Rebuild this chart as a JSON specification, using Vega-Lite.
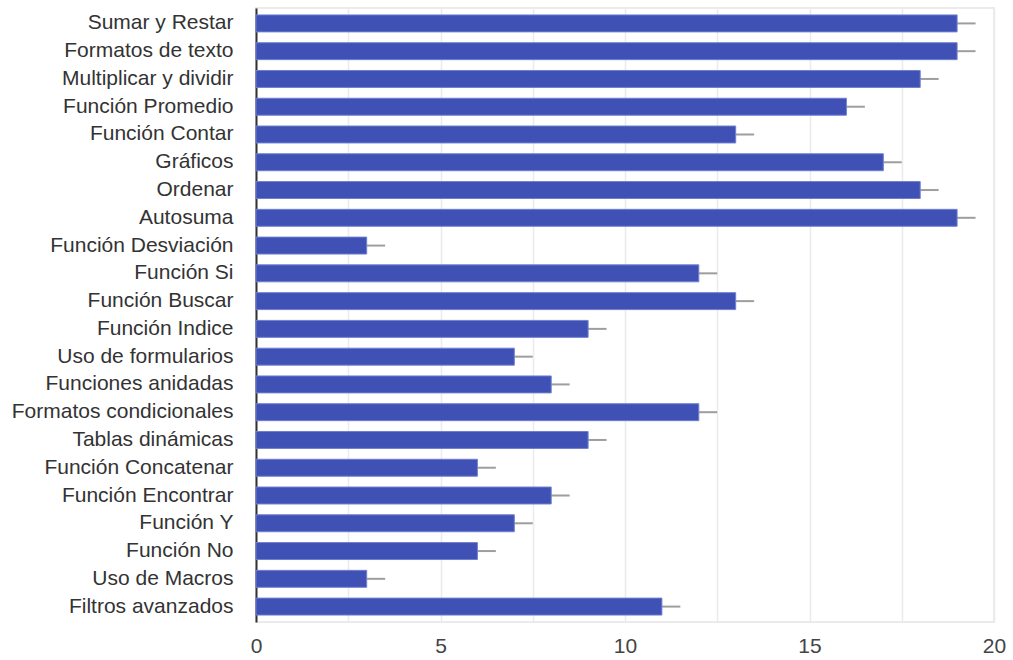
{
  "$schema": "https://vega.github.io/schema/vega-lite/v6.json",
  "width": 738,
  "height": 614,
  "autosize": {"type": "none"},
  "padding": {"left": 256, "top": 8, "right": 19, "bottom": 38},
  "background": "white",
  "config": {"view": {"stroke": "#ebebeb", "strokeWidth": 2}, "font": "Liberation Sans"},
  "data": {"values": [
    {"name": "Sumar y Restar", "value": 19, "hi": 19.5},
    {"name": "Formatos de texto", "value": 19, "hi": 19.5},
    {"name": "Multiplicar y dividir", "value": 18, "hi": 18.5},
    {"name": "Función Promedio", "value": 16, "hi": 16.5},
    {"name": "Función Contar", "value": 13, "hi": 13.5},
    {"name": "Gráficos", "value": 17, "hi": 17.5},
    {"name": "Ordenar", "value": 18, "hi": 18.5},
    {"name": "Autosuma", "value": 19, "hi": 19.5},
    {"name": "Función Desviación", "value": 3, "hi": 3.5},
    {"name": "Función Si", "value": 12, "hi": 12.5},
    {"name": "Función Buscar", "value": 13, "hi": 13.5},
    {"name": "Función Indice", "value": 9, "hi": 9.5},
    {"name": "Uso de formularios", "value": 7, "hi": 7.5},
    {"name": "Funciones anidadas", "value": 8, "hi": 8.5},
    {"name": "Formatos condicionales", "value": 12, "hi": 12.5},
    {"name": "Tablas dinámicas", "value": 9, "hi": 9.5},
    {"name": "Función Concatenar", "value": 6, "hi": 6.5},
    {"name": "Función Encontrar", "value": 8, "hi": 8.5},
    {"name": "Función Y", "value": 7, "hi": 7.5},
    {"name": "Función No", "value": 6, "hi": 6.5},
    {"name": "Uso de Macros", "value": 3, "hi": 3.5},
    {"name": "Filtros avanzados", "value": 11, "hi": 11.5}
  ]},
  "encoding": {
    "y": {"field": "name", "type": "nominal", "sort": null,
      "scale": {"paddingInner": 0.39, "paddingOuter": 0.25},
      "axis": {"title": null, "ticks": false, "domainColor": "#333333", "domainWidth": 2,
        "labelFontSize": 21, "labelColor": "#333333", "labelPadding": 23, "labelLimit": 260}}
  },
  "layer": [
    {"mark": {"type": "rule", "color": "#9e9e9e", "strokeWidth": 2},
     "encoding": {"x": {"field": "value", "type": "quantitative"}, "x2": {"field": "hi"}}},
    {"mark": {"type": "bar", "color": "#3f51b5", "stroke": "#6f7fd0", "strokeWidth": 1},
     "encoding": {"x": {"field": "value", "type": "quantitative",
       "scale": {"domain": [0, 20], "nice": false},
       "axis": {"title": null, "values": [0, 2.5, 5, 7.5, 10, 12.5, 15, 17.5, 20],
         "labelExpr": "datum.value % 5 == 0 ? datum.label : ''",
         "domain": false, "ticks": false, "gridColor": "#ebebeb", "gridWidth": 1.5,
         "labelFontSize": 21, "labelColor": "#444444", "labelPadding": 13, "labelFlush": false}}}}
  ]
}
